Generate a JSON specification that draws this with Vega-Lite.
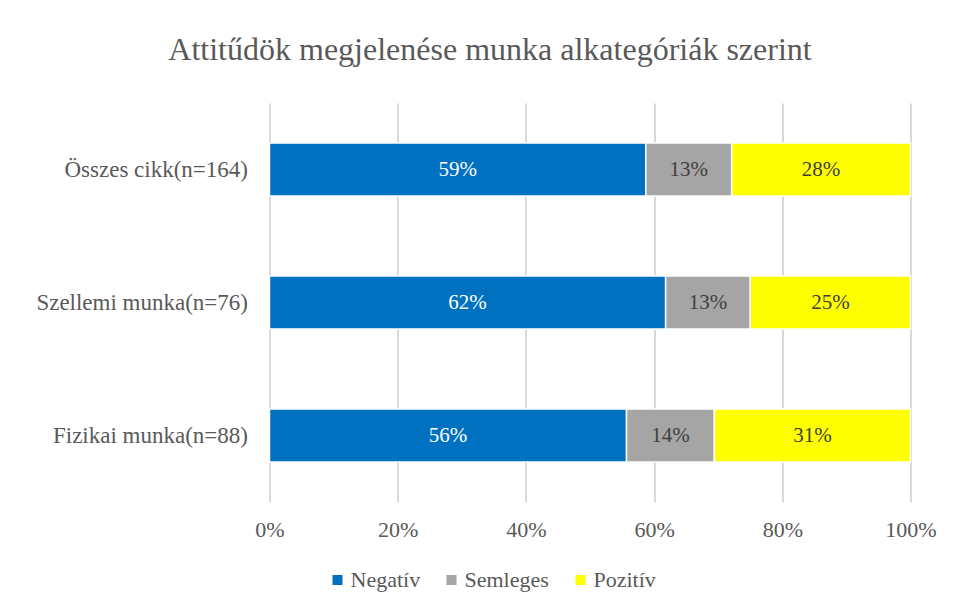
{
  "$schema": "https://vega.github.io/schema/vega-lite/v6.json",
  "width": 641,
  "height": 399,
  "autosize": "none",
  "padding": {"left": 269.5, "top": 103, "right": 47.5, "bottom": 107},
  "background": "white",
  "title": {
    "text": "Attitűdök megjelenése munka alkategóriák  szerint",
    "font": "Liberation Serif",
    "fontSize": 32,
    "fontWeight": "normal",
    "color": "#595959",
    "anchor": "middle",
    "dx": -100,
    "offset": 36
  },
  "data": {
    "values": [
      {"kat": "Összes cikk(n=164)", "att": "Negatív", "o": 1, "v": 0.587},
      {"kat": "Összes cikk(n=164)", "att": "Semleges", "o": 2, "v": 0.134},
      {"kat": "Összes cikk(n=164)", "att": "Pozitív", "o": 3, "v": 0.279},
      {"kat": "Szellemi munka(n=76)", "att": "Negatív", "o": 1, "v": 0.618},
      {"kat": "Szellemi munka(n=76)", "att": "Semleges", "o": 2, "v": 0.132},
      {"kat": "Szellemi munka(n=76)", "att": "Pozitív", "o": 3, "v": 0.25},
      {"kat": "Fizikai munka(n=88)", "att": "Negatív", "o": 1, "v": 0.557},
      {"kat": "Fizikai munka(n=88)", "att": "Semleges", "o": 2, "v": 0.137},
      {"kat": "Fizikai munka(n=88)", "att": "Pozitív", "o": 3, "v": 0.306}
    ]
  },
  "transform": [
    {"stack": "v", "groupby": ["kat"], "sort": [{"field": "o", "order": "ascending"}], "as": ["v0", "v1"]},
    {"calculate": "(datum.v0 + datum.v1) / 2", "as": "mid"}
  ],
  "encoding": {
    "y": {
      "field": "kat",
      "type": "nominal",
      "sort": null,
      "scale": {"paddingInner": 0.6, "paddingOuter": 0.3},
      "axis": {
        "title": null,
        "labelFont": "Liberation Serif",
        "labelFontSize": 23,
        "labelColor": "#595959",
        "labelLimit": 400,
        "ticks": false,
        "domain": false,
        "labelPadding": 22,
        "grid": false
      }
    }
  },
  "layer": [
    {
      "mark": {"type": "bar", "stroke": "white", "strokeWidth": 1.5},
      "encoding": {
        "x": {
          "field": "v0",
          "type": "quantitative",
          "scale": {"domain": [0, 1], "nice": false},
          "axis": {
            "title": null,
            "values": [0, 0.2, 0.4, 0.6, 0.8, 1],
            "format": ".0%",
            "grid": true,
            "gridColor": "#D9D9D9",
            "gridWidth": 2,
            "domain": false,
            "ticks": false,
            "labelFlush": false,
            "labelPadding": 17,
            "labelFont": "Liberation Serif",
            "labelFontSize": 22,
            "labelColor": "#595959"
          }
        },
        "x2": {"field": "v1"},
        "color": {
          "field": "att",
          "type": "nominal",
          "scale": {"domain": ["Negatív", "Semleges", "Pozitív"], "range": ["#0070C0", "#A5A5A5", "#FFFF00"]},
          "legend": {
            "title": null,
            "orient": "none",
            "legendX": 57,
            "legendY": 466,
            "direction": "horizontal",
            "symbolType": "square",
            "symbolSize": 100,
            "symbolStrokeWidth": 0,
            "labelFont": "Liberation Serif",
            "labelFontSize": 22,
            "labelColor": "#595959",
            "labelOffset": 2,
            "columnPadding": 20
          }
        },
        "order": {"field": "o"}
      }
    },
    {
      "mark": {"type": "text", "font": "Liberation Serif", "fontSize": 21, "baseline": "middle", "align": "center"},
      "encoding": {
        "x": {"field": "mid", "type": "quantitative"},
        "text": {"field": "v", "type": "quantitative", "format": ".0%"},
        "color": {
          "condition": {"test": "datum.att === 'Negatív'", "value": "white"},
          "value": "#404040"
        }
      }
    }
  ],
  "config": {"view": {"stroke": null}}
}
